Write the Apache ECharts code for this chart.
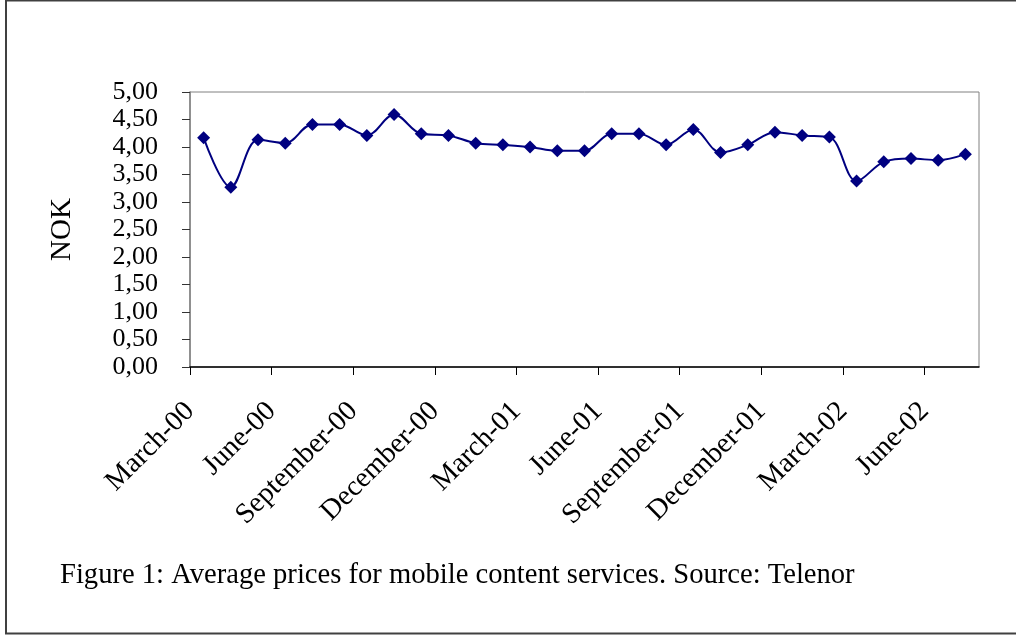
<!DOCTYPE html>
<html>
<head>
<meta charset="utf-8">
<script src="https://cdn.jsdelivr.net/npm/echarts@6/dist/echarts.min.js"></script>
<style>html,body{margin:0;padding:0;background:#fff;}#c{width:1016px;height:635px;}</style>
</head>
<body>
<div id="c"></div>
<script>
// Monthly categories March-00 .. July-02
const months = ['March-00','April-00','May-00','June-00','July-00','August-00','September-00','October-00','November-00','December-00','January-01','February-01','March-01','April-01','May-01','June-01','July-01','August-01','September-01','October-01','November-01','December-01','January-02','February-02','March-02','April-02','May-02','June-02','July-02'];
// Boundary labels (tick label at start of each month, plus end boundary)
const boundaryLabels = months.concat(['August-02']);
const prices = [4.17,3.27,4.13,4.07,4.41,4.41,4.21,4.59,4.24,4.21,4.07,4.04,4.00,3.93,3.93,4.24,4.24,4.04,4.32,3.90,4.04,4.27,4.21,4.18,3.38,3.73,3.79,3.76,3.87];
const yTicks = [0,0.5,1,1.5,2,2.5,3,3.5,4,4.5,5];
const caption = 'Figure 1: Average prices for mobile content services. Source: Telenor';

const FONT = '"Liberation Serif","Times New Roman",serif';
const chart = echarts.init(document.getElementById('c'), null, {renderer:'canvas'});
chart.setOption({
  animation:false,
  backgroundColor:'#fff',
  grid:{left:190,right:37,top:92,bottom:268,show:true,borderColor:'#808080',borderWidth:1,backgroundColor:'transparent'},
  graphic:[
    {type:'rect',shape:{x:6,y:0.5,width:1030,height:633},style:{fill:'none',stroke:'#404040',lineWidth:2}},
    {type:'text',left:60,top:561,style:{text:caption,font:'28.6px '+FONT,fill:'#000'}}
  ],
  xAxis:[
    {type:'category',data:months,boundaryGap:true,position:'bottom',
     axisLine:{show:true,lineStyle:{color:'#000',width:1.5}},
     axisTick:{show:false},axisLabel:{show:false},splitLine:{show:false}},
    {type:'category',data:boundaryLabels,boundaryGap:false,position:'bottom',
     axisLine:{show:false},
     axisTick:{show:true,interval:2,length:8,lineStyle:{color:'#000'}},
     axisLabel:{interval:2,rotate:45,margin:40,fontFamily:FONT,fontSize:28.5,color:'#000'},
     splitLine:{show:false}}
  ],
  yAxis:{type:'value',min:0,max:5,interval:0.5,
    name:'NOK',nameLocation:'middle',nameGap:113,nameTextStyle:{fontFamily:FONT,fontSize:29,color:'#000'},
    axisLine:{show:true,lineStyle:{color:'#808080',width:1.5}},
    axisTick:{show:true,length:8,lineStyle:{color:'#333'}},
    axisLabel:{margin:32,fontFamily:FONT,fontSize:26,color:'#000',
      formatter:v=>{const t=yTicks.find(x=>Math.abs(x-v)<1e-9);return (t===undefined?v:t).toFixed(2).replace('.',',');}},
    splitLine:{show:false}},
  series:[{type:'line',xAxisIndex:0,data:prices,smooth:0.35,symbol:'diamond',symbolSize:13,
    lineStyle:{color:'#000080',width:2},itemStyle:{color:'#000080'}}]
});
</script>
</body>
</html>
